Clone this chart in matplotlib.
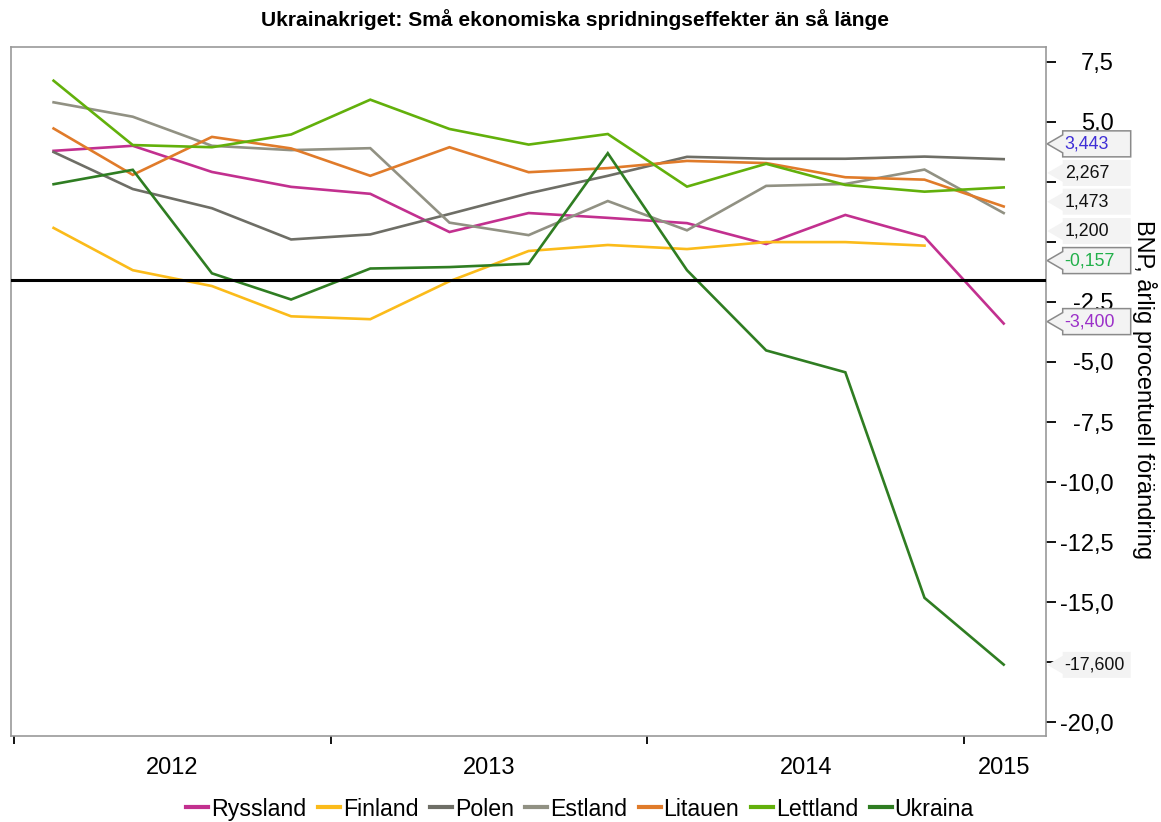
import matplotlib.pyplot as plt
import matplotlib.transforms as mtransforms
from matplotlib.patches import Polygon
from matplotlib.ticker import FuncFormatter, FixedLocator
from matplotlib.lines import Line2D

plt.rcParams['font.family'] = ['Liberation Sans', 'DejaVu Sans']

# quarterly GDP growth, Q1 2012 - Q1 2015
quarters = [2012 + (i + 0.5) / 4 for i in range(13)]
ryssland = [3.79, 4.00, 2.91, 2.29, 2.00, 0.41, 1.20, 1.00, 0.78, -0.09, 1.12, 0.20, -3.40]
finland = [0.58, -1.18, -1.84, -3.10, -3.22, -1.64, -0.38, -0.13, -0.30, -0.01, -0.01, -0.157]
polen = [3.74, 2.20, 1.40, 0.10, 0.31, 1.16, 2.02, 2.75, 3.54, 3.46, 3.46, 3.55, 3.443]
estland = [5.81, 5.21, 4.00, 3.82, 3.90, 0.80, 0.28, 1.70, 0.48, 2.33, 2.41, 3.01, 1.20]
litauen = [4.72, 2.79, 4.37, 3.89, 2.75, 3.94, 2.90, 3.07, 3.37, 3.28, 2.69, 2.59, 1.473]
lettland = [6.71, 4.03, 3.94, 4.47, 5.92, 4.70, 4.05, 4.49, 2.30, 3.25, 2.37, 2.09, 2.267]
ukraina = [2.40, 3.00, -1.31, -2.40, -1.11, -1.05, -0.91, 3.69, -1.18, -4.52, -5.43, -14.82, -17.60]

names = ['Ryssland', 'Finland', 'Polen', 'Estland', 'Litauen', 'Lettland', 'Ukraina']
series = [ryssland, finland, polen, estland, litauen, lettland, ukraina]
colors = ['#c2308f', '#fbbb1a', '#6e6e66', '#919183', '#e07b2a', '#62b00b', '#2f7d22']

ref_level = -1.6

# end value labels on the right
end_values = [3.443, 2.267, 1.473, 1.200, -0.157, -3.400, -17.600]
end_label_pos = [4.08, 2.87, 1.67, 0.45, -0.78, -3.32, -17.61]
end_label_colors = ['#3f2fd6', '#111111', '#111111', '#111111', '#22b04a', '#9b30c8', '#111111']
end_label_border = [True, False, False, False, True, True, False]

y_ticks = [7.5, 5, 2.5, 0, -2.5, -5, -7.5, -10, -12.5, -15, -17.5, -20]
hidden_y_labels = [2.5, 0, -17.5]  # covered by the callouts

year_ticks = [2012, 2013, 2014, 2015]
year_label_pos = [2012.5, 2013.5, 2014.5, 2015.125]
year_labels = ['2012', '2013', '2014', '2015']

W, H = 1161, 822
fig = plt.figure(figsize=(W / 100, H / 100), dpi=100)
ax = fig.add_axes([10.7 / W, 1 - 735.7 / H, 1035 / W, 688.4 / H])

for vals, name, c in zip(series, names, colors):
    ax.plot(quarters[:len(vals)], vals, color=c, lw=1.9, label=name, solid_joinstyle='miter')
ax.axhline(ref_level, color='black', lw=2.2, zorder=3)

ax.set_xlim(2011.9896, 2015.2577)
ax.set_ylim(-20.56, 8.10)

for s in ax.spines.values():
    s.set_color('#999999')
    s.set_linewidth(1.2)

# x axis: year boundary ticks, year labels centred
ax.xaxis.set_major_locator(FixedLocator(year_ticks))
ax.xaxis.set_minor_locator(FixedLocator(year_label_pos))
ax.xaxis.set_major_formatter(FuncFormatter(lambda v, p: ''))
ax.xaxis.set_minor_formatter(FuncFormatter(lambda v, p: year_labels[p] if p is not None and p < len(year_labels) else ''))
ax.tick_params(axis='x', which='major', direction='out', length=6, width=1.3, color='black')
ax.tick_params(axis='x', which='minor', length=0, pad=15, labelsize=17)


def yfmt(v, p):
    if any(abs(v - h) < 1e-6 for h in hidden_y_labels):
        return ''
    return f'{v:.1f}'.replace('.', ',')


# y axis on the right
ax.yaxis.tick_right()
ax.set_yticks(y_ticks)
ax.yaxis.set_major_formatter(FuncFormatter(yfmt))
ax.tick_params(axis='y', direction='out', length=7, width=1.3, color='black', pad=42, labelsize=17)
for lab in ax.get_yticklabels():
    lab.set_ha('right')

fig.text(1145 / W, 1 - 390 / H, 'BNP, årlig procentuell förändring', rotation=270,
         ha='center', va='center', fontsize=17)
fig.text(575 / W, 1 - 20 / H, 'Ukrainakriget: Små ekonomiska spridningseffekter än så länge',
         ha='center', va='center', fontsize=15.1, fontweight='bold')

# callout labels
ident = mtransforms.IdentityTransform()
x_right = ax.transAxes.transform((1, 0))[0]
for val, pos, tc, border in zip(end_values, end_label_pos, end_label_colors, end_label_border):
    yc = ax.transData.transform((0, pos))[1]
    x0 = x_right + 1.5
    xb = x_right + 17
    xe = x_right + 85
    hh = 13
    th = 9
    verts = [(xb, yc + hh), (xe, yc + hh), (xe, yc - hh), (xb, yc - hh),
             (xb, yc - th), (x0, yc), (xb, yc + th)]
    poly = Polygon(verts, closed=True, transform=ident, clip_on=False, zorder=10,
                   facecolor='#f3f3f3', edgecolor='#8a8a8a' if border else 'none', lw=1.1)
    ax.add_artist(poly)
    ax.text(xb + 2, yc, f'{val:.3f}'.replace('.', ','), transform=ident, ha='left', va='center',
            fontsize=12.8, color=tc, zorder=11, clip_on=False)

handles = [Line2D([], [], color=c, lw=3) for c in colors]
fig.legend(handles, names, loc='center', bbox_to_anchor=(580 / W, 1 - 809 / H), ncol=7,
           frameon=False, fontsize=16.7, handlelength=0.95, handletextpad=0.12, columnspacing=0.5)

fig.savefig('out.png', dpi=100)
